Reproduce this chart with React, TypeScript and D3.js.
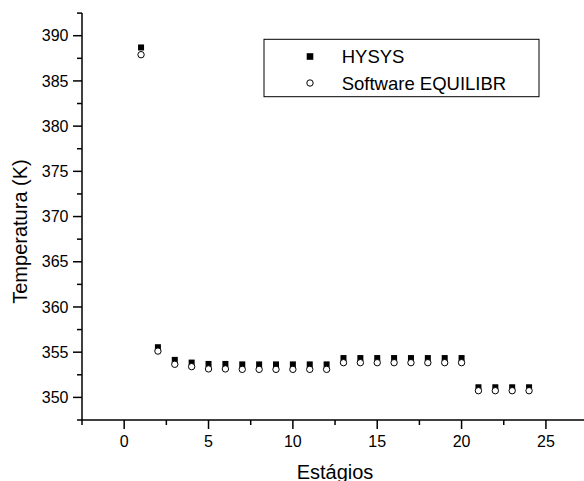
import React from "react";
import * as d3 from "d3";

const stages = [1, 2, 3, 4, 5, 6, 7, 8, 9, 10, 11, 12, 13, 14, 15, 16, 17, 18, 19, 20, 21, 22, 23, 24];
const hysys = [388.7, 355.55, 354.15, 353.85, 353.7, 353.7, 353.65, 353.65, 353.65, 353.65, 353.65, 353.65,
  354.35, 354.35, 354.35, 354.35, 354.35, 354.35, 354.35, 354.35, 351.12, 351.12, 351.12, 351.12];
const equilibr = [387.9, 355.12, 353.66, 353.4, 353.15, 353.15, 353.1, 353.1, 353.1, 353.1, 353.1, 353.1,
  353.84, 353.84, 353.84, 353.84, 353.84, 353.84, 353.84, 353.84, 350.74, 350.74, 350.74, 350.74];
const xTicks = [0, 5, 10, 15, 20, 25];
const yTicks = [350, 355, 360, 365, 370, 375, 380, 385, 390];
const seriesNames = ["HYSYS", "Software EQUILIBR"];
const xTitle = "Estágios";
const yTitle = "Temperatura (K)";

const W = 584;
const H = 481;
const FONT = "'Liberation Sans', Arial, sans-serif";

export default function App() {
  const x = d3.scaleLinear().domain([-2.5, 27.5]).range([82, 588.1]);
  const y = d3.scaleLinear().domain([347.5, 392.5]).range([420, 13.1]);
  const xMinor = d3.range(-2.5, 27.6, 5);
  const yMinor = d3.range(347.5, 392.6, 5);
  const sq = 6;
  const r = 3.2;
  return (
    <svg width={W} height={H} style={{ position: "absolute", left: 0, top: 0, background: "#fff" }}
      fontFamily={FONT}>
      {/* axes */}
      <line x1={x(-2.5)} x2={W} y1={y(347.5)} y2={y(347.5)} stroke="#000" strokeWidth={1.5} />
      <line x1={x(-2.5)} x2={x(-2.5)} y1={y(347.5)} y2={y(392.5)} stroke="#000" strokeWidth={1.5} />
      {xTicks.map((t) => (
        <g key={"xt" + t}>
          <line x1={x(t)} x2={x(t)} y1={420} y2={429} stroke="#000" strokeWidth={1.5} />
          <text x={x(t)} y={446.7} fontSize={16} textAnchor="middle">{t}</text>
        </g>
      ))}
      {xMinor.map((t) => (
        <line key={"xm" + t} x1={x(t)} x2={x(t)} y1={420} y2={425} stroke="#000" strokeWidth={1.5} />
      ))}
      {yTicks.map((t) => (
        <g key={"yt" + t}>
          <line x1={73} x2={82} y1={y(t)} y2={y(t)} stroke="#000" strokeWidth={1.5} />
          <text x={68.5} y={y(t) + 5.7} fontSize={16} textAnchor="end">{t}</text>
        </g>
      ))}
      {yMinor.map((t) => (
        <line key={"ym" + t} x1={77} x2={82} y1={y(t)} y2={y(t)} stroke="#000" strokeWidth={1.5} />
      ))}
      {/* titles */}
      <text x={335} y={479} fontSize={20} textAnchor="middle">{xTitle}</text>
      <text transform={`translate(27,231.5) rotate(-90)`} fontSize={20} textAnchor="middle">{yTitle}</text>
      {/* data */}
      {stages.map((s, i) => (
        <rect key={"h" + s} x={x(s) - sq / 2} y={y(hysys[i]) - sq / 2} width={sq} height={sq} fill="#000" />
      ))}
      {stages.map((s, i) => (
        <circle key={"e" + s} cx={x(s)} cy={y(equilibr[i])} r={r} fill="#fff" stroke="#000" strokeWidth={1} />
      ))}
      {/* legend */}
      <rect x={264} y={39.3} width={275} height={57.4} fill="#fff" stroke="#000" strokeWidth={1} />
      <rect x={310 - 3.3} y={56.5 - 3.3} width={6.6} height={6.6} fill="#000" />
      <text x={341.7} y={63.3} fontSize={18.5}>{seriesNames[0]}</text>
      <circle cx={310} cy={83} r={3.2} fill="#fff" stroke="#000" strokeWidth={1} />
      <text x={341.7} y={90} fontSize={18.5}>{seriesNames[1]}</text>
    </svg>
  );
}
